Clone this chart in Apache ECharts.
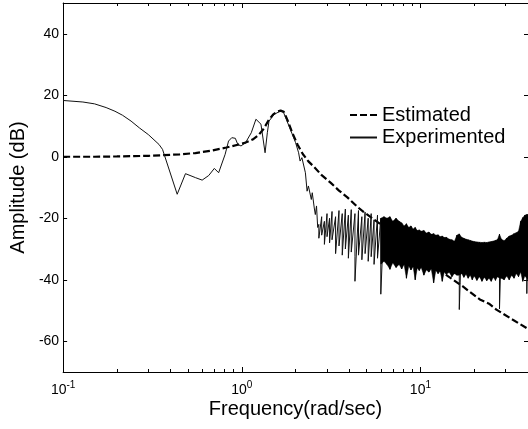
<!DOCTYPE html>
<html><head><meta charset="utf-8">
<script src="https://cdn.jsdelivr.net/npm/echarts@6/dist/echarts.min.js"></script>
<style>html,body{margin:0;padding:0;background:#fff}#c{width:528px;height:429px}</style>
</head><body><div id="c"></div>
<script>
const FONT = '"Liberation Sans", Arial, sans-serif';

// Estimated (model) curve
const estFreq = [0.1, 0.15, 0.2, 0.25, 0.3, 0.36, 0.45, 0.55, 0.68, 0.82, 0.95, 1.05, 1.15, 1.24, 1.33, 1.41, 1.5, 1.58, 1.65, 1.72, 1.8, 1.91, 2.05, 2.2, 2.36, 2.54, 2.8, 3.15, 3.5, 3.9, 4.48, 4.82, 6, 8, 10, 12, 14.3, 17.2, 21.5, 24.2, 26.6, 32.9, 40];
const estAmp  = [0, 0, 0.1, 0.2, 0.3, 0.5, 0.8, 1.2, 2.0, 3.0, 3.9, 4.6, 5.6, 7.0, 9.2, 11.8, 13.8, 14.7, 15.0, 14.6, 12.0, 8.0, 4.0, 0.8, -1.5, -3.3, -6.0, -8.5, -11, -13.2, -16.5, -18, -22, -27.6, -31.9, -35.4, -38.9, -42.1, -46.4, -47.8, -49.7, -53, -56];

// Experimented curve: smooth low-frequency part
const expFreq = [0.1, 0.129, 0.15, 0.174, 0.195, 0.215, 0.24, 0.267, 0.3, 0.344, 0.36, 0.435, 0.484, 0.551, 0.6, 0.653, 0.702, 0.742, 0.807, 0.843, 0.879, 0.92, 0.95, 0.99, 1.05, 1.13, 1.2, 1.22, 1.28, 1.35, 1.39, 1.42, 1.52, 1.65, 1.71, 1.87, 2.0, 2.08, 2.12, 2.17, 2.27, 2.32, 2.36, 2.45, 2.48, 2.55, 2.58, 2.62, 2.66];
const expAmp  = [18.3, 17.8, 17.2, 16.0, 14.8, 13.5, 11.6, 9.4, 7.2, 4.0, 2.4, -12.2, -5.5, -6.8, -7.6, -6.1, -3.8, -5.2, 0.8, 5.1, 6.2, 6.0, 4.0, 3.5, 4.6, 7.8, 12.2, 12.7, 10.6, 1.3, 7.8, 11.6, 13.8, 14.9, 14.5, 8.9, 4.6, 1.3, -1.4, -0.3, -5.2, -11.2, -9.5, -13.9, -11.7, -17, -18.8, -16, -23];

// Experimented curve: noisy high-frequency part (band top / band bottom at each frequency)
const noiseFreq = [2.7, 2.8, 2.9, 3.0, 3.1, 3.2, 3.35, 3.5, 3.65, 3.8, 3.95, 4.1, 4.3, 4.5, 4.7, 4.9, 5.1, 5.3, 5.5, 5.75, 6.0, 6.25, 6.5, 6.75, 7.0, 7.3, 7.6,
  7.85, 8.1, 8.35, 8.6, 8.85, 9.1, 9.35, 9.6, 9.85, 10.1,
  10.45, 10.8, 11.15, 11.5, 11.85, 12.2, 12.55, 12.9, 13.25, 13.6, 13.95,
  14.5, 15, 15.5, 16, 16.5, 17, 17.5, 18, 18.5, 19, 19.5, 20,
  20.7, 21.4, 22.1, 22.8, 23.5, 24.2, 24.9, 25.6, 26.3, 27, 27.7,
  28.4, 29.4, 30.4, 31.4, 32.4, 33.4, 34.4, 35.4, 36.4, 37.4, 38.4, 39.4, 40];
const noiseHi = [-22, -19.5, -21, -18.5, -20, -17.8, -19.5, -17.5, -18.5, -17, -19, -17.2, -18.5, -17.5, -19.5, -18, -20, -18.5, -20.5, -19, -20, -19.5, -20, -19.5, -21, -20, -21,
  -21.5, -22.5, -21.8, -23, -22.5, -23.5, -23, -24, -23.8, -24.2,
  -24, -24.8, -24.5, -25.2, -25, -25.5, -25.4, -26, -25.8, -26.3, -26.2,
  -26.8, -27, -27.5, -25.5, -25.1, -26.2, -26.5, -26.8, -27, -27.2, -27.4, -27.6,
  -27.7, -27.8, -27.9, -27.8, -27.9, -27.7, -27.6, -27.4, -27.2, -26.9, -25.2,
  -26.8, -27.3, -26.5, -25.8, -25.5, -25, -24.7, -24.2, -21, -19.8, -19, -18.8, -18.8];
const noiseLo = [-26.5, -25.5, -28.5, -26, -28, -27, -31.5, -29, -32, -30, -33, -31, -32.5, -32, -33.5, -31.5, -34, -32.5, -35, -33, -35, -34, -35, -36.6, -34.5, -36, -35,
  -36.5, -35, -39.5, -35.5, -36.8, -35.8, -40, -36.2, -37, -36,
  -38.5, -36.8, -37.5, -36.5, -41, -37, -38, -37.2, -40.5, -37.5, -38.2,
  -37.6, -39, -38, -38.5, -38.5, -38, -39.2, -38.2, -39.5, -38.5, -40, -38.8,
  -40.2, -39, -40.5, -39.2, -40.3, -39.5, -40.5, -39.2, -40.2, -39, -39.5,
  -39.5, -40, -38.8, -40, -38.5, -39.5, -38, -39, -37.5, -40.5, -38.8, -39.5, -40];
// Deep isolated drops below the noise band
const spikeFreq = [4.3, 6.0, 16.5, 27.7, 39.4];
const spikeAmp  = [-40.5, -44.7, -49.7, -49.5, -44.5];
// Frequency from which the noise band reads as solid black
const solidFrom = 6.0;

// Axis ticks
const yTicks = [-60, -40, -20, 0, 20, 40];
const xMajor = [0.1, 1, 10];
const xMinor = [0.2, 0.3, 0.4, 0.5, 0.6, 0.7, 0.8, 0.9, 2, 3, 4, 5, 6, 7, 8, 9, 20, 30];
const xMin = 0.1, xMax = 40;

const estData = estFreq.map((f, i) => [f, estAmp[i]]);
const expData = expFreq.map((f, i) => [f, expAmp[i]]);
noiseFreq.forEach((f, i) => {
  expData.push([f, noiseHi[i]]);
  expData.push([f, noiseLo[i]]);
  const s = spikeFreq.indexOf(f);
  if (s >= 0) expData.push([f, spikeAmp[s]]);
});

const L = Math.log10;
function tickAxis(pos, vals, len, withLabels, showLine) {
  return {
    type: 'value', position: pos, min: L(xMin), max: L(xMax),
    axisLine: { show: !!showLine, onZero: false, lineStyle: { color: '#000', width: 1 } },
    axisTick: { show: true, inside: true, length: len, customValues: vals.map(L), lineStyle: { color: '#000', width: 1 } },
    axisLabel: withLabels ? {
      customValues: vals.map(L), margin: 8, color: '#000',
      formatter: v => '{b|10}{s|' + Math.round(v) + '}',
      rich: {
        b: { fontSize: 14, fontFamily: FONT, color: '#000', verticalAlign: 'bottom' },
        s: { fontSize: 10, fontFamily: FONT, color: '#000', verticalAlign: 'bottom', padding: [0, 0, 7, 0] }
      }
    } : { show: false },
    splitLine: { show: false }
  };
}

const chart = echarts.init(document.getElementById('c'), null, { renderer: 'canvas' });
chart.setOption({
  animation: false,
  backgroundColor: '#fff',
  grid: { left: 61, top: 3, right: -1, bottom: 57, containLabel: false },
  legend: {
    orient: 'vertical', left: 349, top: 105, padding: 0, itemWidth: 27, itemHeight: 14, itemGap: 2.5,
    itemStyle: { opacity: 0, borderWidth: 0 },
    textStyle: { fontSize: 20, lineHeight: 20, color: '#000', fontFamily: FONT },
    data: ['Estimated', 'Experimented']
  },
  xAxis: [
    {
      type: 'log', position: 'bottom', min: xMin, max: xMax, logBase: 10,
      axisLine: { show: true, onZero: false, lineStyle: { color: '#000', width: 1 } },
      axisTick: { show: false }, axisLabel: { show: false }, splitLine: { show: false },
      name: 'Frequency(rad/sec)', nameLocation: 'middle', nameGap: 27,
      nameTextStyle: { fontSize: 20, color: '#000', fontFamily: FONT }
    },
    tickAxis('bottom', xMajor, 5, true, false),
    tickAxis('bottom', xMinor, 3, false, false),
    tickAxis('top', xMajor, 5, false, true),
    tickAxis('top', xMinor, 3, false, false)
  ],
  yAxis: [
    {
      type: 'value', position: 'left', min: -70, max: 50,
      axisLine: { show: true, onZero: false, lineStyle: { color: '#000', width: 1 } },
      axisTick: { show: true, inside: true, length: 4, customValues: yTicks, lineStyle: { color: '#000' } },
      axisLabel: { customValues: yTicks, fontSize: 14, color: '#000', margin: 4, fontFamily: FONT },
      splitLine: { show: false },
      name: 'Amplitude (dB)', nameLocation: 'middle', nameGap: 33,
      nameTextStyle: { fontSize: 20, color: '#000', fontFamily: FONT }
    },
    {
      type: 'value', position: 'right', min: -70, max: 50,
      axisLine: { show: true, onZero: false, lineStyle: { color: '#000', width: 1 } },
      axisTick: { show: true, inside: true, length: 4, customValues: yTicks, lineStyle: { color: '#000' } },
      axisLabel: { show: false }, splitLine: { show: false }
    }
  ],
  series: [
    {
      name: 'Estimated', type: 'line', xAxisIndex: 0, yAxisIndex: 0, data: estData,
      symbol: 'none', smooth: false,
      lineStyle: { color: '#000', width: 2.2, type: [7, 3] }, z: 1
    },
    {
      name: 'Experimented', type: 'line', xAxisIndex: 0, yAxisIndex: 0, data: expData,
      symbol: 'none', smooth: false, sampling: null,
      lineStyle: { color: '#111', width: 1 }, z: 5
    },
    {
      name: 'ExperimentedBand', type: 'custom', xAxisIndex: 0, yAxisIndex: 0, z: 6,
      data: [[solidFrom, 0]], encode: { x: 0, y: 1 }, clip: true, silent: true,
      renderItem: function (params, api) {
        const top = [], bottom = [];
        noiseFreq.forEach((f, i) => {
          if (f < solidFrom) return;
          top.push(api.coord([f, noiseHi[i]]));
          bottom.push(api.coord([f, noiseLo[i]]));
        });
        return { type: 'polygon', z2: 10, shape: { points: top.concat(bottom.reverse()) }, style: { fill: '#000', stroke: '#000', lineWidth: 0.5 } };
      }
    }
  ]
});
</script></body></html>
